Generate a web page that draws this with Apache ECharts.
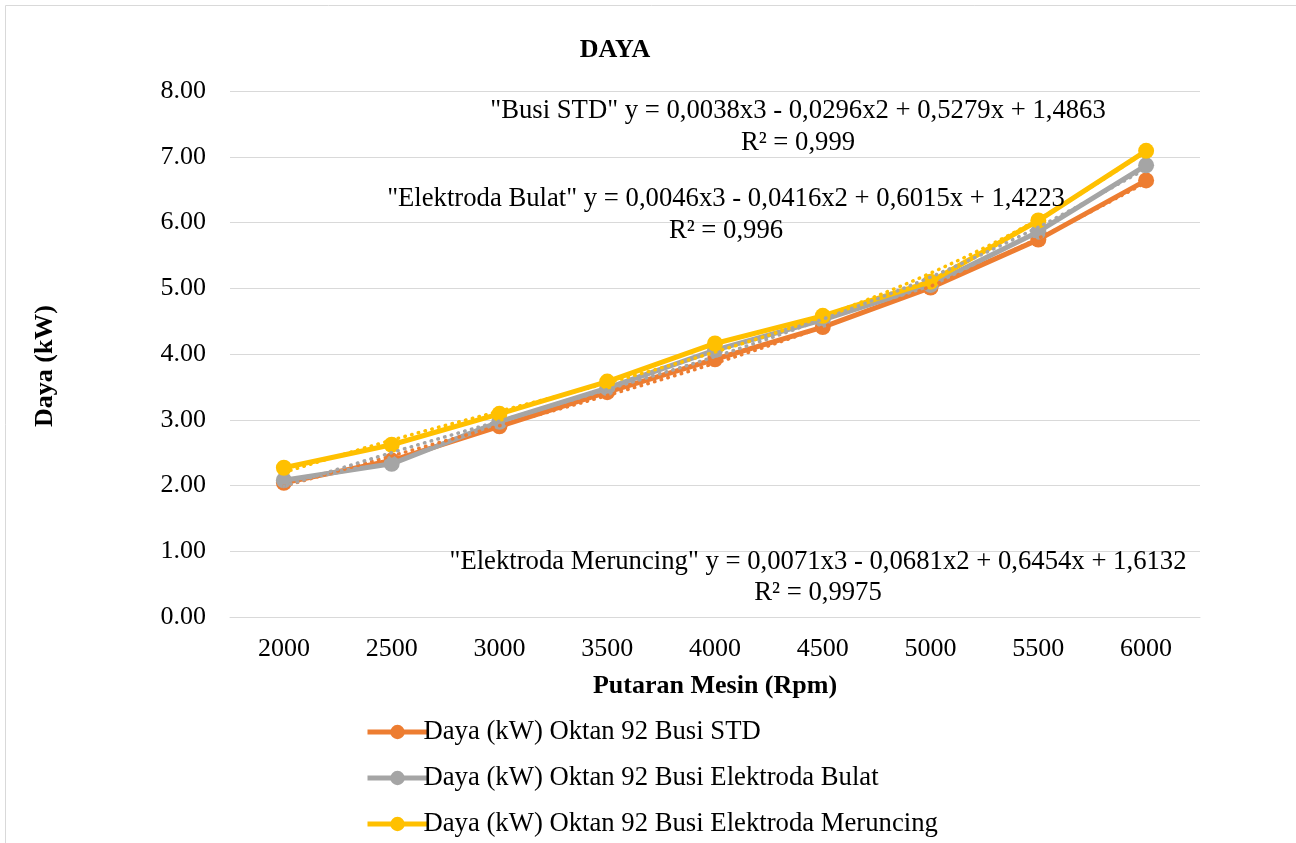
<!DOCTYPE html>
<html>
<head>
<meta charset="utf-8">
<script src="https://cdn.jsdelivr.net/npm/echarts@6/dist/echarts.min.js"></script>
<style>
html,body{margin:0;padding:0;background:#fff;}
#c{width:1296px;height:843px;}
</style>
</head>
<body>
<div id="c"></div>
<script>
const categories = ['2000','2500','3000','3500','4000','4500','5000','5500','6000'];
const yTickLabels = ['0.00','1.00','2.00','3.00','4.00','5.00','6.00','7.00','8.00'];
const seriesNames = ['Daya (kW) Oktan 92 Busi STD','Daya (kW) Oktan 92 Busi Elektroda Bulat','Daya (kW) Oktan 92 Busi Elektroda Meruncing'];
const busiStd = [2.04, 2.38, 2.90, 3.42, 3.92, 4.41, 5.01, 5.74, 6.64];
const busiBulat = [2.08, 2.33, 2.97, 3.48, 4.06, 4.52, 5.05, 5.86, 6.87];
const busiMeruncing = [2.27, 2.62, 3.09, 3.58, 4.16, 4.58, 5.10, 6.03, 7.09];
// trendline values
const trendStd = [1.99, 2.45, 2.91, 3.37, 3.86, 4.41, 5.03, 5.76, 6.61];
const trendBulat = [1.99, 2.50, 2.98, 3.46, 3.96, 4.53, 5.17, 5.93, 6.82];
const trendMeruncing = [2.20, 2.69, 3.13, 3.56, 4.03, 4.57, 5.23, 6.05, 7.08];
const eqStd = ['"Busi STD" y = 0,0038x3 - 0,0296x2 + 0,5279x + 1,4863', 'R² = 0,999'];
const eqBulat = ['"Elektroda Bulat" y = 0,0046x3 - 0,0416x2 + 0,6015x + 1,4223', 'R² = 0,996'];
const eqMeruncing = ['"Elektroda Meruncing" y = 0,0071x3 - 0,0681x2 + 0,6454x + 1,6132', 'R² = 0,9975'];
const yAxisTitle = 'Daya (kW)';

const colors = ['#ED7D31', '#A5A5A5', '#FFC000'];
const FONT = '"Liberation Serif", "Times New Roman", serif';
const FS = 26;
const FS2 = 26.7;

const chart = echarts.init(document.getElementById('c'));

function mainSeries(name, data, color, z) {
  return {
    name: name, type: 'line', data: data, z: z,
    symbol: 'circle', symbolSize: 16,
    itemStyle: { color: color },
    lineStyle: { color: color, width: 5 },
    emphasis: { disabled: true }
  };
}
function trendSeries(data, color, z) {
  return {
    type: 'line', data: data, z: z, smooth: 0.35,
    symbol: 'none', silent: true,
    lineStyle: { color: color, width: 3.5, type: [0.5, 6.5], cap: 'round' }
  };
}
function legendFor(i, top) {
  return {
    orient: 'vertical', left: 365, top: top, padding: 0,
    itemWidth: 60, itemHeight: 18, itemGap: 0,
    data: [seriesNames[i]],
    lineStyle: { width: 5 },
    textStyle: { fontFamily: FONT, fontSize: FS2, color: '#000', lineHeight: 30, padding: [0, 0, 0, -9] }
  };
}
const textStyle = { fontFamily: FONT, fontSize: FS2, fill: '#000', textAlign: 'center', textVerticalAlign: 'middle' };

chart.setOption({
  animation: false,
  textStyle: { fontFamily: FONT },
  graphic: [
    { type: 'rect', shape: { x: 5.5, y: 5.5, width: 1300, height: 850 }, style: { fill: 'none', stroke: '#d9d9d9', lineWidth: 1 }, silent: true, z: -10 },
    { type: 'text', x: 615, y: 50,
      style: { text: 'DAYA', fontFamily: FONT, fontSize: FS, fontWeight: 'bold', fill: '#000', textAlign: 'center', textVerticalAlign: 'middle' }, z: 100 },
    { type: 'text', x: 45, y: 366, rotation: Math.PI / 2,
      style: { text: yAxisTitle, fontFamily: FONT, fontSize: FS, fontWeight: 'bold', fill: '#000', textAlign: 'center', textVerticalAlign: 'middle' }, z: 100 },
    { type: 'text', x: 798, y: 111, style: Object.assign({ text: eqStd[0] }, textStyle), z: 100 },
    { type: 'text', x: 798, y: 143, style: Object.assign({ text: eqStd[1] }, textStyle), z: 100 },
    { type: 'text', x: 726, y: 199, style: Object.assign({ text: eqBulat[0] }, textStyle), z: 100 },
    { type: 'text', x: 726, y: 231, style: Object.assign({ text: eqBulat[1] }, textStyle), z: 100 },
    { type: 'text', x: 818, y: 562, style: Object.assign({ text: eqMeruncing[0] }, textStyle), z: 100 },
    { type: 'text', x: 818, y: 593, style: Object.assign({ text: eqMeruncing[1] }, textStyle), z: 100 }
  ],
  grid: { left: 230, right: 96, top: 91, bottom: 226 },
  legend: [legendFor(0, 717), legendFor(1, 763), legendFor(2, 809)],
  xAxis: {
    type: 'category', data: categories, boundaryGap: true,
    name: 'Putaran Mesin (Rpm)', nameLocation: 'middle', nameGap: 56,
    nameTextStyle: { fontFamily: FONT, fontSize: FS, fontWeight: 'bold', color: '#000' },
    axisLine: { lineStyle: { color: '#d9d9d9', width: 1 } },
    axisTick: { show: false },
    axisLabel: { fontFamily: FONT, fontSize: FS, color: '#000', margin: 19 }
  },
  yAxis: {
    type: 'value', min: 0, max: 8, interval: 1,
    axisLine: { show: false }, axisTick: { show: false },
    splitLine: { lineStyle: { color: '#d9d9d9', width: 1 } },
    axisLabel: { fontFamily: FONT, fontSize: FS, color: '#000', margin: 24,
      formatter: function (v) { return yTickLabels[Math.round(v)]; } }
  },
  series: [
    mainSeries(seriesNames[0], busiStd, colors[0], 2),
    mainSeries(seriesNames[1], busiBulat, colors[1], 3),
    mainSeries(seriesNames[2], busiMeruncing, colors[2], 4),
    trendSeries(trendStd, colors[0], 5),
    trendSeries(trendBulat, colors[1], 6),
    trendSeries(trendMeruncing, colors[2], 7)
  ]
});
</script>
</body>
</html>
